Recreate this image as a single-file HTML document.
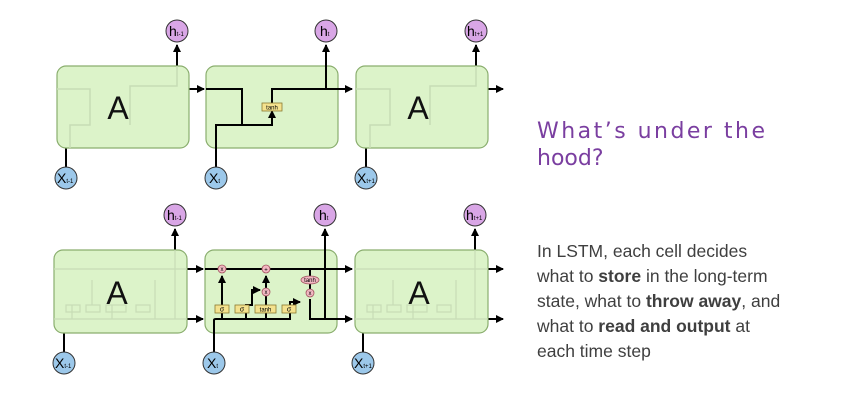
<!DOCTYPE html>
<html><head><meta charset="utf-8"><style>
html,body{margin:0;padding:0;background:#fff;width:841px;height:401px;overflow:hidden}
</style></head><body>
<svg width="841" height="401" viewBox="0 0 841 401" xmlns="http://www.w3.org/2000/svg" font-family="Liberation Sans, sans-serif">
<defs>
<marker id="ar" markerWidth="8" markerHeight="8" refX="7" refY="4" orient="auto" markerUnits="userSpaceOnUse"><path d="M0,0 L8,4 L0,8 z" fill="#000"/></marker>
</defs>
<!-- TOP ROW -->
<g stroke="#000" stroke-width="2" fill="none">
<line x1="177" y1="66" x2="177" y2="45" marker-end="url(#ar)"/>
<line x1="326" y1="66" x2="326" y2="45" marker-end="url(#ar)"/>
<line x1="476" y1="66" x2="476" y2="45" marker-end="url(#ar)"/>
<line x1="66" y1="148" x2="66" y2="167"/>
<line x1="366" y1="148" x2="366" y2="167"/>
<line x1="189" y1="89" x2="204" y2="89" marker-end="url(#ar)"/>
<line x1="488" y1="89" x2="503" y2="89" marker-end="url(#ar)"/>
</g>
<g fill="#dcf3c9" stroke="#8aae6e" stroke-width="1.2">
<rect x="57" y="66" width="132" height="82" rx="9"/>
<rect x="206" y="66" width="132" height="82" rx="9"/>
<rect x="356" y="66" width="132" height="82" rx="9"/>
</g>
<g stroke="#c7dcb6" stroke-width="1.5" fill="none">
<path d="M57,89 H90 V125 H70 V148"/><path d="M177,66 V86 H130 V125"/>
<path d="M356,89 H390 V125 H370 V148"/><path d="M476,66 V86 H430 V125"/>
</g>
<g stroke="#000" stroke-width="2" fill="none">
<path d="M206,89 H242 V125 H272 V111" marker-end="url(#ar)"/>
<path d="M216,167 V125 H245"/>
<path d="M272,103 V89 H326 V45"/>
<line x1="326" y1="89" x2="352" y2="89" marker-end="url(#ar)"/>
</g>
<rect x="262" y="103" width="20" height="8" fill="#f4e28e" stroke="#8a7a30" stroke-width="0.8"/>
<text x="272" y="109.5" font-size="6" text-anchor="middle">tanh</text>
<g font-size="32" text-anchor="middle" fill="#111"><text x="118" y="119">A</text><text x="418" y="119">A</text></g>
<!-- BOTTOM ROW -->
<g stroke="#000" stroke-width="2" fill="none">
<line x1="175" y1="250" x2="175" y2="229" marker-end="url(#ar)"/>
<line x1="475" y1="250" x2="475" y2="229" marker-end="url(#ar)"/>
<line x1="64" y1="333" x2="64" y2="352"/>
<line x1="363" y1="333" x2="363" y2="352"/>
<line x1="187" y1="269" x2="203" y2="269" marker-end="url(#ar)"/>
<line x1="187" y1="319" x2="203" y2="319" marker-end="url(#ar)"/>
<line x1="488" y1="269" x2="503" y2="269" marker-end="url(#ar)"/>
<line x1="488" y1="319" x2="503" y2="319" marker-end="url(#ar)"/>
</g>
<g fill="#dcf3c9" stroke="#8aae6e" stroke-width="1.2">
<rect x="54" y="250" width="133" height="83" rx="9"/>
<rect x="205" y="250" width="132" height="83" rx="9"/>
<rect x="355" y="250" width="133" height="83" rx="9"/>
</g>
<g stroke="#c7dcb6" stroke-width="1.2" fill="none">
<path d="M54,269 H187 M54,319 H187 M72,319 V305 M92,305 V280 M112,319 V305 M155,280 V319 M175,250 V319"/>
<rect x="66" y="305" width="14" height="7"/><rect x="86" y="305" width="14" height="7"/><rect x="106" y="305" width="20" height="7"/><rect x="136" y="305" width="14" height="7"/>
<path d="M355,269 H488 M355,319 H488 M373,319 V305 M393,305 V280 M413,319 V305 M456,280 V319 M475,250 V319"/>
<rect x="367" y="305" width="14" height="7"/><rect x="387" y="305" width="14" height="7"/><rect x="407" y="305" width="20" height="7"/><rect x="437" y="305" width="14" height="7"/>
</g>
<g font-size="32" text-anchor="middle" fill="#111"><text x="117" y="304">A</text><text x="419" y="304">A</text></g>
<g stroke="#000" stroke-width="2" fill="none">
<line x1="205" y1="269" x2="352" y2="269" marker-end="url(#ar)"/>
<path d="M214,352 V320 Q214,319 216,319 H290 V302 H300" marker-end="url(#ar)"/>
<path d="M246,319 V305 H252 V290 H260" marker-end="url(#ar)"/>
<line x1="222" y1="319" x2="222" y2="312"/>
<line x1="222" y1="305" x2="222" y2="276" marker-end="url(#ar)"/>
<line x1="266" y1="290" x2="266" y2="276" marker-end="url(#ar)"/>
<line x1="266" y1="319" x2="266" y2="296"/>
<path d="M310,269 V293 M310,299 V319 H352" marker-end="url(#ar)"/>
<line x1="325" y1="319" x2="325" y2="229" marker-end="url(#ar)"/>
</g>
<g fill="#f4e28e" stroke="#8a7a30" stroke-width="0.8">
<rect x="215" y="305" width="14" height="8"/><rect x="235" y="305" width="14" height="8"/><rect x="255" y="305" width="21" height="8"/><rect x="282" y="305" width="14" height="8"/>
</g>
<g font-size="7" text-anchor="middle" fill="#000"><text x="222" y="311.5">σ</text><text x="242" y="311.5">σ</text><text x="265.5" y="311.5" font-size="6">tanh</text><text x="289" y="311.5">σ</text></g>
<g fill="#f2b8c2" stroke="#a0505e" stroke-width="0.8">
<circle cx="222" cy="269" r="4"/><circle cx="266" cy="269" r="4"/><circle cx="266" cy="292" r="4"/><circle cx="310" cy="293" r="4"/>
<ellipse cx="310" cy="280" rx="9" ry="4"/>
</g>
<g font-size="6" text-anchor="middle" fill="#000"><text x="222" y="271">x</text><text x="266" y="271.5">+</text><text x="266" y="294">x</text><text x="310" y="295">x</text><text x="310" y="282">tanh</text></g>
<!-- circles -->
<g stroke="#333" stroke-width="1">
<circle cx="177" cy="31" r="11" fill="#d9a6e6"/><circle cx="326" cy="31" r="11" fill="#d9a6e6"/><circle cx="476" cy="31" r="11" fill="#d9a6e6"/>
<circle cx="66" cy="178" r="11" fill="#9cc8ea"/><circle cx="216" cy="178" r="11" fill="#9cc8ea"/><circle cx="366" cy="178" r="11" fill="#9cc8ea"/>
<circle cx="175" cy="215" r="11" fill="#d9a6e6"/><circle cx="325" cy="215" r="11" fill="#d9a6e6"/><circle cx="475" cy="215" r="11" fill="#d9a6e6"/>
<circle cx="64" cy="363" r="11" fill="#9cc8ea"/><circle cx="214" cy="363" r="11" fill="#9cc8ea"/><circle cx="363" cy="363" r="11" fill="#9cc8ea"/>
</g>
<g font-size="14" fill="#000">
<text x="169" y="36">h<tspan font-size="6">t-1</tspan></text><text x="320" y="36">h<tspan font-size="6">t</tspan></text><text x="467" y="36">h<tspan font-size="6">t+1</tspan></text>
<text x="57" y="183">X<tspan font-size="6">t-1</tspan></text><text x="209" y="183">X<tspan font-size="6">t</tspan></text><text x="357" y="183">X<tspan font-size="6">t+1</tspan></text>
<text x="167" y="220">h<tspan font-size="6">t-1</tspan></text><text x="319" y="220">h<tspan font-size="6">t</tspan></text><text x="466" y="220">h<tspan font-size="6">t+1</tspan></text>
<text x="55" y="368">X<tspan font-size="6">t-1</tspan></text><text x="207" y="368">X<tspan font-size="6">t</tspan></text><text x="354" y="368">X<tspan font-size="6">t+1</tspan></text>
</g>
<!-- right text -->
<g font-family="DejaVu Sans, sans-serif" font-size="22" fill="#7a3ea0">
<text x="537" y="138" textLength="228">What’s under the</text>
<text x="537" y="165">hood?</text>
</g>
<g font-size="17.5" fill="#3f3f3f">
<text x="537" y="257">In LSTM, each cell decides</text>
<text x="537" y="282">what to <tspan font-weight="bold">store</tspan> in the long-term</text>
<text x="537" y="307">state, what to <tspan font-weight="bold">throw away</tspan>, and</text>
<text x="537" y="332">what to <tspan font-weight="bold">read and output</tspan> at</text>
<text x="537" y="357">each time step</text>
</g>
</svg>
</body></html>
